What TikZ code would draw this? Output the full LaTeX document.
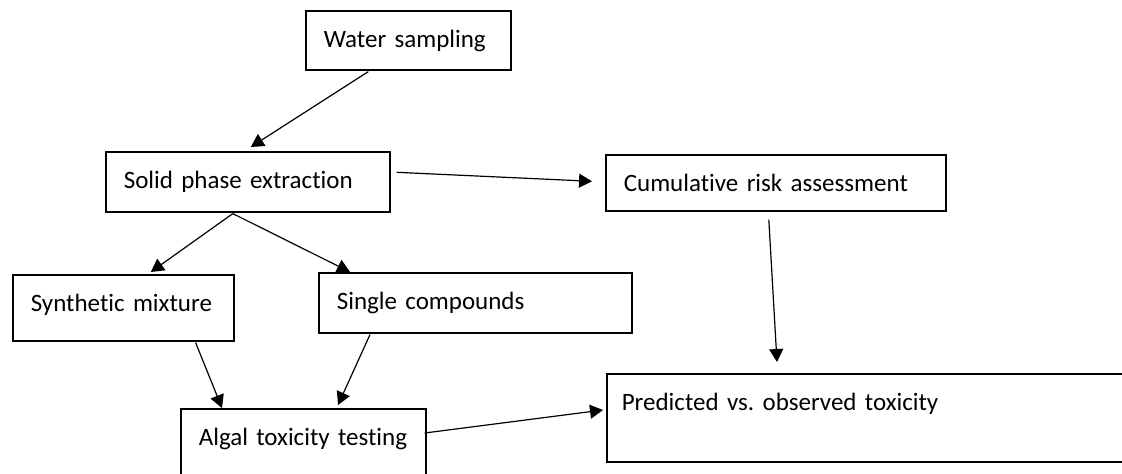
\documentclass[tikz,border=0pt]{standalone}
\usepackage{fontspec}
\setmainfont{Carlito}[Ligatures=NoCommon]
\usepackage{tikz}
\usetikzlibrary{arrows.meta, calc}
\tikzset{
    stage/.style={rectangle, draw, line width=0.8pt, anchor=north west, align=left, inner xsep=9pt, inner ysep=0pt, text height=18.5pt, font=\fontsize{12.5}{15}\selectfont},
    flow/.style={draw, line width=0.6pt, -{Triangle[length=6.5pt, width=7pt]}},
}
\begin{document}
\begin{tikzpicture}[x=0.5pt, y=-0.5pt]
    \useasboundingbox (0,0) rectangle (1122,473);

    % Boxes
    \node[stage, text width=84.5pt, text depth=11pt] (water) at (305,10) {Water sampling};
    \node[stage, text width=124pt, text depth=11.5pt] (spe) at (105,151) {Solid phase extraction};
    \node[stage, text width=152pt, text depth=9.5pt] (cum) at (605,154) {Cumulative risk assessment};
    \node[stage, text width=92.5pt, text depth=14.5pt] (synth) at (12,274) {Synthetic mixture};
    \node[stage, text width=138.5pt, text depth=11.5pt] (single) at (318,272) {Single compounds};
    \node[stage, text width=104.5pt, text depth=27.5pt] (algal) at (180,408) {Algal toxicity testing};
    \node[stage, inner xsep=7.5pt, text width=247pt, text depth=25.5pt] (pred) at (606,373) {Predicted vs.\ observed toxicity};

    % Arrows
    \draw[flow] ($(water.south)+(-40,1)$) -- ($(spe.north)+(3,-4)$);
    \draw[flow] ($(spe.east)+(6,-9.5)$) -- ($(cum.west)+(-13,-1.5)$);
    \draw[flow] ($(spe.south)+(-15,1)$) -- ($(synth.north)+(27.5,-2)$);
    \draw[flow] ($(spe.south)+(-15,1)$) -- ($(single.north west)+(32,0)$);
    \draw[flow] ($(synth.south east)+(-39,1)$) -- ($(algal.north west)+(42,0)$);
    \draw[flow] ($(single.south west)+(52,1)$) -- ($(algal.north west)+(158,-3)$);
    \draw[flow] ($(algal.north east)+(-2,25)$) -- ($(pred.north west)+(-3,37)$);
    \draw[flow] ($(cum.south)+(-7,8)$) -- ($(pred.north west)+(171,-11)$);
\end{tikzpicture}
\end{document}
